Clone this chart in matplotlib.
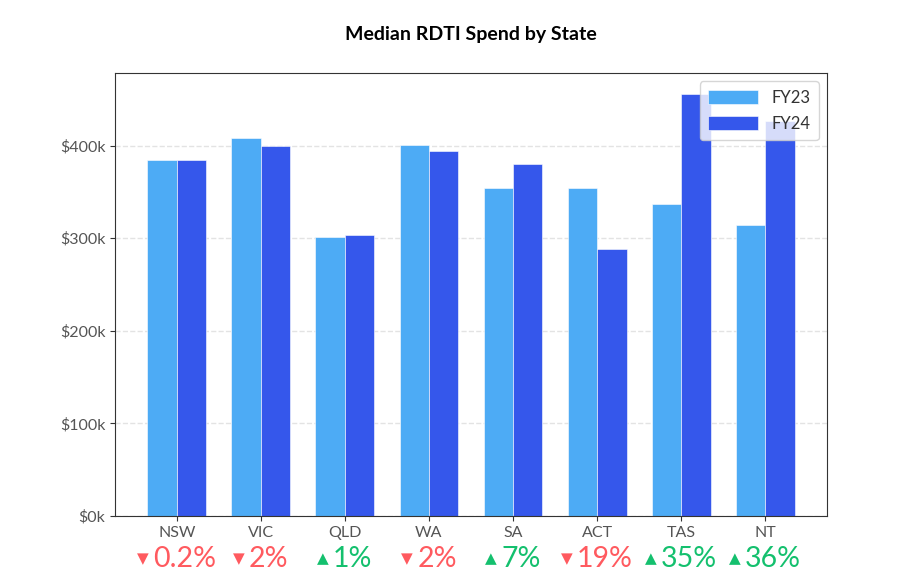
import matplotlib.pyplot as plt
import numpy as np
from matplotlib.offsetbox import TextArea, HPacker, AnnotationBbox

# median spend per state (k$)
states = ["NSW", "VIC", "QLD", "WA", "SA", "ACT", "TAS", "NT"]
fy23 = [384.6, 408.4, 301.0, 400.5, 354.4, 354.8, 336.8, 314.0]
fy24 = [384.0, 399.5, 303.2, 394.0, 379.7, 288.0, 455.7, 427.0]

plt.rcParams['font.family'] = ['Lato', 'DejaVu Sans']

c23 = '#4dabf5'
c24 = '#3557eb'
red = '#ff5a5f'
green = '#14c06e'

fig = plt.figure(figsize=(9.2, 5.83), dpi=100)
ax = fig.add_axes([115 / 920, 1 - 516 / 583, 712 / 920, 443 / 583])

x = np.arange(len(states))
w = 0.35
ax.bar(x - w / 2, fy23, w, color=c23, edgecolor='#ffffff', linewidth=0.4, label='FY23', zorder=2)
ax.bar(x + w / 2, fy24, w, color=c24, edgecolor='#ffffff', linewidth=0.4, label='FY24', zorder=2)

ax.set_ylim(0, max(fy24) * 1.05)
ax.set_yticks([0, 100, 200, 300, 400])
ax.set_yticklabels([f'${v}k' for v in [0, 100, 200, 300, 400]])
ax.set_xticks(x)
ax.set_xticklabels(states)
ax.tick_params(labelsize=11.5, labelcolor='#555555', colors='#333333')
ax.yaxis.grid(True, ls='--', color='#e3e3e3', lw=1, zorder=0)
ax.set_axisbelow(True)
for s in ax.spines.values():
    s.set_color('#333333')

ax.set_title('Median RDTI Spend by State', fontsize=14, fontweight='bold', pad=24)

leg = ax.legend(loc='upper right', fontsize=12, handlelength=3, handleheight=0.9,
                framealpha=0.8, borderpad=0.5, labelspacing=0.6)
for t in leg.get_texts():
    t.set_color('#333333')

# percentage change under each state
for i in range(len(states)):
    pct = (fy24[i] - fy23[i]) / fy23[i] * 100
    if round(abs(pct)) == 0:
        txt = f'{abs(pct):.1f}%'
    else:
        txt = f'{abs(pct):.0f}%'
    col = green if pct >= 0 else red
    tri = '▲' if pct >= 0 else '▼'
    a = TextArea(tri, textprops=dict(color=col, fontsize=11, family=['DejaVu Sans']))
    b = TextArea(txt, textprops=dict(color=col, fontsize=20.5))
    box = HPacker(children=[a, b], align='center', pad=0, sep=3)
    ab = AnnotationBbox(box, (x[i], -0.097), xycoords=ax.get_xaxis_transform(),
                        frameon=False, box_alignment=(0.5, 0.5), annotation_clip=False)
    ax.add_artist(ab)

fig.savefig('out.png', dpi=100)
